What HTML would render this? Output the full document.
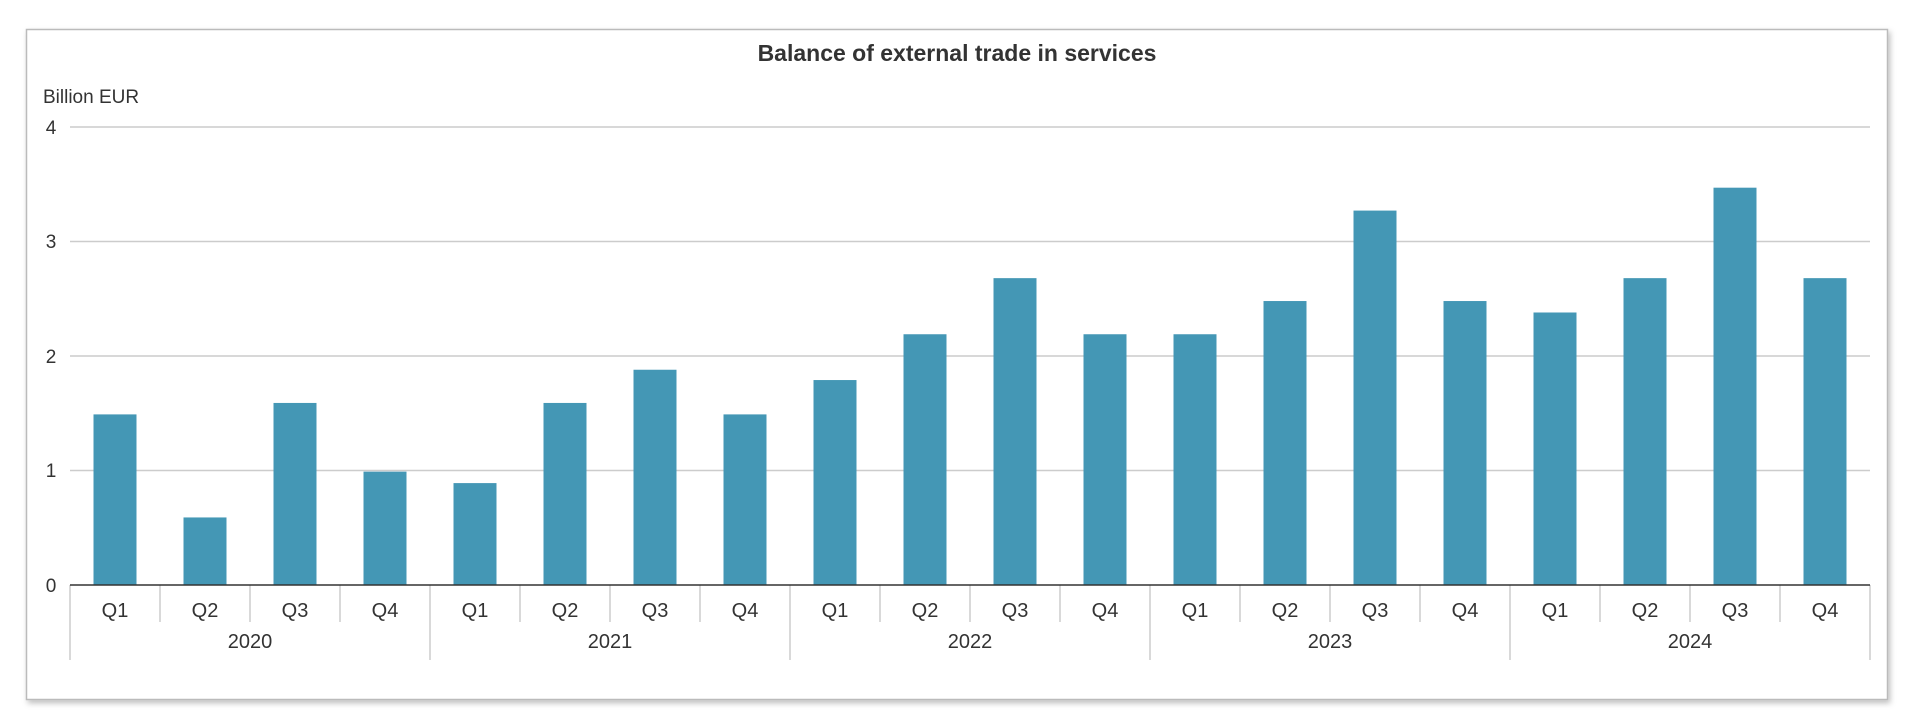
<!DOCTYPE html>
<html><head><meta charset="utf-8"><style>
html,body{margin:0;padding:0;background:#fff;}
svg{display:block;font-family:"Liberation Sans",Arial,sans-serif;}
</style></head><body>
<svg width="1920" height="727" viewBox="0 0 1920 727" xmlns="http://www.w3.org/2000/svg">
<defs><filter id="sh" x="-5%" y="-5%" width="110%" height="115%"><feDropShadow dx="2" dy="3" stdDeviation="3" flood-color="#000" flood-opacity="0.25"/></filter></defs>
<rect x="26.5" y="29.5" width="1861" height="670" fill="#fff" stroke="#bbb" stroke-width="1.5" filter="url(#sh)"/>
<text x="957" y="61" text-anchor="middle" font-size="23" font-weight="bold" fill="#333">Balance of external trade in services</text>
<text x="43" y="103" font-size="19" fill="#333">Billion EUR</text>
<g stroke="#ccc" stroke-width="1.5">
<line x1="70" x2="1870" y1="127" y2="127"/>
<line x1="70" x2="1870" y1="241.5" y2="241.5"/>
<line x1="70" x2="1870" y1="356" y2="356"/>
<line x1="70" x2="1870" y1="470.5" y2="470.5"/>
</g>
<g font-size="19" fill="#333" text-anchor="middle">
<text x="51" y="134">4</text><text x="51" y="248">3</text><text x="51" y="363">2</text><text x="51" y="477">1</text><text x="51" y="592">0</text>
</g>
<g fill="#4497b5" id="bars"></g>
<g id="xa"></g>
<line x1="70" x2="1870" y1="585" y2="585" stroke="#333" stroke-width="1.5"/>
<script>
var v=[1.49,0.59,1.59,0.99,0.89,1.59,1.88,1.49,1.79,2.19,2.68,2.19,2.19,2.48,3.27,2.48,2.38,2.68,3.47,2.68];
var ns="http://www.w3.org/2000/svg",b=document.getElementById("bars"),xa=document.getElementById("xa");
function el(p,t,a,txt){var e=document.createElementNS(ns,t);for(var k in a)e.setAttribute(k,a[k]);if(txt)e.textContent=txt;p.appendChild(e);}
for(var i=0;i<20;i++){var h=v[i]*114.5,cx=70+90*i+45;
el(b,"rect",{x:cx-21.5,y:585-h,width:43,height:h});
el(xa,"text",{x:cx,y:617,"font-size":20,fill:"#333","text-anchor":"middle"},"Q"+(i%4+1));
var x=70+90*i;el(xa,"line",{x1:x,x2:x,y1:585,y2:(i%4==0?660:622),stroke:"#ccc","stroke-width":1.5});}
el(xa,"line",{x1:1870,x2:1870,y1:585,y2:660,stroke:"#ccc","stroke-width":1.5});
for(var y=0;y<5;y++)el(xa,"text",{x:70+360*y+180,y:648,"font-size":20,fill:"#333","text-anchor":"middle"},String(2020+y));
</script>
</svg>
</body></html>
